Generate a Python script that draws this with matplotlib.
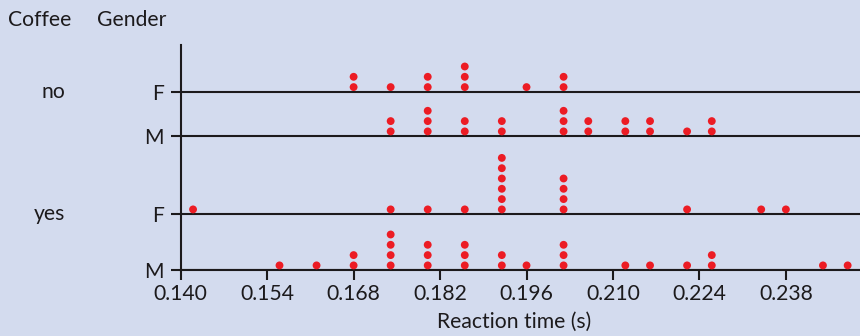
#!/usr/bin/env python3
# -*- coding: utf-8 -*-
"""Dot plot of reaction time by coffee and gender."""

# --- IMPORTS ---------------------------------------------------------------
import numpy as np
import matplotlib
matplotlib.use("Agg")
import matplotlib.pyplot as plt

# --- DATA ------------------------------------------------------------------
COFFEE = ["no", "no", "yes", "yes"]
GENDER = ["F", "M", "F", "M"]

no_F = [0.168, 0.168, 0.174, 0.180, 0.180, 0.186, 0.186, 0.186,
        0.196, 0.202, 0.202]
no_M = [0.174, 0.174, 0.180, 0.180, 0.180, 0.186, 0.186, 0.192, 0.192,
        0.202, 0.202, 0.202, 0.206, 0.206, 0.212, 0.212, 0.216, 0.216,
        0.222, 0.226, 0.226]
yes_F = [0.142, 0.174, 0.180, 0.186,
         0.192, 0.192, 0.192, 0.192, 0.192, 0.192,
         0.202, 0.202, 0.202, 0.202, 0.222, 0.234, 0.238]
yes_M = [0.156, 0.162, 0.168, 0.168, 0.174, 0.174, 0.174, 0.174,
         0.180, 0.180, 0.180, 0.186, 0.186, 0.186, 0.192, 0.192, 0.196,
         0.202, 0.202, 0.202, 0.212, 0.216, 0.222, 0.226, 0.226,
         0.244, 0.248]
GROUPS = [no_F, no_M, yes_F, yes_M]

X_TICKS = [0.140, 0.154, 0.168, 0.182, 0.196, 0.210, 0.224, 0.238]

# --- LAYOUT (pixels, figure is 860 x 336) ----------------------------------
W, H = 860, 336
AX_LEFT, AX_RIGHT, AX_TOP, AX_BOTTOM = 180.7, 860, 45, 270
ROW_BASE = [178.3, 134.0, 56.0, 0.0]   # baseline height above x axis (px)
DOT_OFFSET, DOT_STEP = 4.6, 10.3

BG = "#d3dbee"
RED = "#ec1c24"
INK = "#1c1a1c"
FONT = ["Lato", "DejaVu Sans"]
FS = 15.2

plt.rcParams["font.family"] = FONT


def fx(px):
    return px / W


def fy(py):
    return 1 - py / H


# --- CHART -----------------------------------------------------------------
def create_dot_plot():
    fig = plt.figure(figsize=(W / 100, H / 100), dpi=100, facecolor=BG)
    ax = fig.add_axes([fx(AX_LEFT), fy(AX_BOTTOM),
                       fx(AX_RIGHT - AX_LEFT), (AX_BOTTOM - AX_TOP) / H])
    ax.set_facecolor(BG)
    ax.set_xlim(0.140, 0.250)
    ax.set_ylim(0, AX_BOTTOM - AX_TOP)

    # baselines for each row
    for base in ROW_BASE:
        ax.axhline(base, color=INK, lw=1.5, zorder=1)

    # stacked dots
    for base, values in zip(ROW_BASE, GROUPS):
        xs, ys = [], []
        for v in sorted(set(values)):
            n = values.count(v)
            xs += [v] * n
            ys += list(base + DOT_OFFSET + DOT_STEP * np.arange(n))
        ax.scatter(xs, ys, s=32, color=RED, edgecolors="none", zorder=3,
                   clip_on=False)

    for side in ["top", "right"]:
        ax.spines[side].set_visible(False)
    ax.spines["left"].set_linewidth(1.5)
    ax.spines["bottom"].set_linewidth(1.5)
    ax.spines["left"].set_color(INK)
    ax.spines["bottom"].set_color(INK)

    ax.set_xticks(X_TICKS)
    ax.set_xticklabels([f"{t:.3f}" for t in X_TICKS], fontsize=FS)
    ax.set_yticks(ROW_BASE)
    ax.set_yticklabels(GENDER, fontsize=FS)
    ax.tick_params(axis="x", length=7, width=1.5, color=INK, pad=3,
                   labelcolor=INK)
    ax.tick_params(axis="y", length=7, width=1.5, color=INK, pad=5,
                   labelcolor=INK)

    # coffee labels and column headers
    for i, (c, base) in enumerate(zip(COFFEE, ROW_BASE)):
        if i % 2 == 0:
            fig.text(fx(65), fy(AX_BOTTOM - base), c, fontsize=FS,
                     ha="right", va="center", color=INK)
    fig.text(fx(8), fy(20), "Coffee", fontsize=FS, ha="left",
             va="center", color=INK)
    fig.text(fx(166), fy(20), "Gender", fontsize=FS, ha="right",
             va="center", color=INK)
    fig.text(fx(514), fy(322), "Reaction time (s)", fontsize=FS,
             ha="center", va="center", color=INK)
    return fig


def main():
    fig = create_dot_plot()
    fig.savefig("out.png", dpi=100, facecolor=BG)


if __name__ == "__main__":
    main()
